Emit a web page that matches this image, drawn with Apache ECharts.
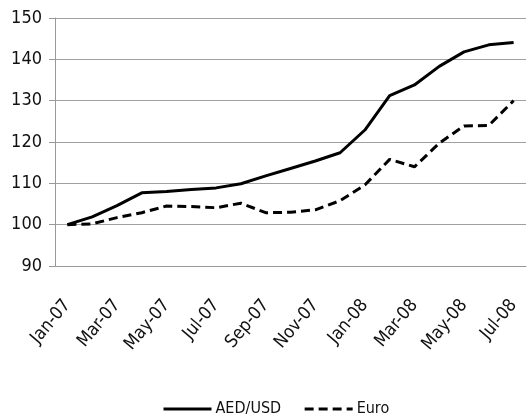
<!DOCTYPE html>
<html>
<head>
<meta charset="utf-8">
<script src="https://cdn.jsdelivr.net/npm/echarts@6/dist/echarts.min.js"></script>
<style>html,body{margin:0;padding:0;background:#fff}#c{width:531px;height:419px}</style>
</head>
<body>
<div id="c"></div>
<script>
var categories = ['Jan-07','Feb-07','Mar-07','Apr-07','May-07','Jun-07','Jul-07','Aug-07','Sep-07','Oct-07','Nov-07','Dec-07','Jan-08','Feb-08','Mar-08','Apr-08','May-08','Jun-08','Jul-08'];
var aedUsd = [100,101.9,104.6,107.7,108.0,108.5,108.9,109.9,111.8,113.6,115.4,117.4,122.9,131.2,133.8,138.3,141.8,143.5,144.1];
var euro = [100,100.2,101.7,102.9,104.5,104.4,104.1,105.2,102.9,103.0,103.6,105.8,109.6,115.8,114.0,119.7,123.9,124.0,130.0];
var yTicks = {min:90, max:150, interval:10};
var FONT = '"DejaVu Sans Condensed","DejaVu Sans",sans-serif';
var chart = echarts.init(document.getElementById('c'));
chart.setOption({
  animation:false,
  backgroundColor:'#fff',
  grid:{left:55, right:5, top:18, bottom:153},
  legend:{
    top:396, left:157, itemWidth:48, itemHeight:14, itemGap:22,
    itemStyle:{opacity:0},
    lineStyle:{width:3},
    textStyle:{fontFamily:FONT, fontSize:16, color:'#111', padding:[0,0,0,-1]},
    data:[{name:'AED/USD'},{name:'Euro'}]
  },
  xAxis:{
    type:'category', data:categories, boundaryGap:true,
    axisLine:{lineStyle:{color:'#999', width:1}},
    axisTick:{interval:1, length:8, lineStyle:{color:'#999'}},
    axisLabel:{interval:1, rotate:50, margin:36, fontFamily:FONT, fontSize:18, color:'#111'}
  },
  yAxis:{
    type:'value', min:yTicks.min, max:yTicks.max, interval:yTicks.interval,
    axisLine:{show:true, lineStyle:{color:'#999', width:1}},
    axisTick:{show:true, length:6, lineStyle:{color:'#999'}},
    splitLine:{lineStyle:{color:'#a0a0a0', width:1}},
    axisLabel:{fontFamily:FONT, fontSize:18, color:'#111', margin:13}
  },
  series:[
    {name:'AED/USD', type:'line', data:aedUsd, symbol:'none', lineStyle:{color:'#000', width:3}, itemStyle:{color:'#000'}},
    {name:'Euro', type:'line', data:euro, symbol:'none', lineStyle:{color:'#000', width:3, type:[9,5]}, itemStyle:{color:'#000'}}
  ]
});
</script>
</body>
</html>
